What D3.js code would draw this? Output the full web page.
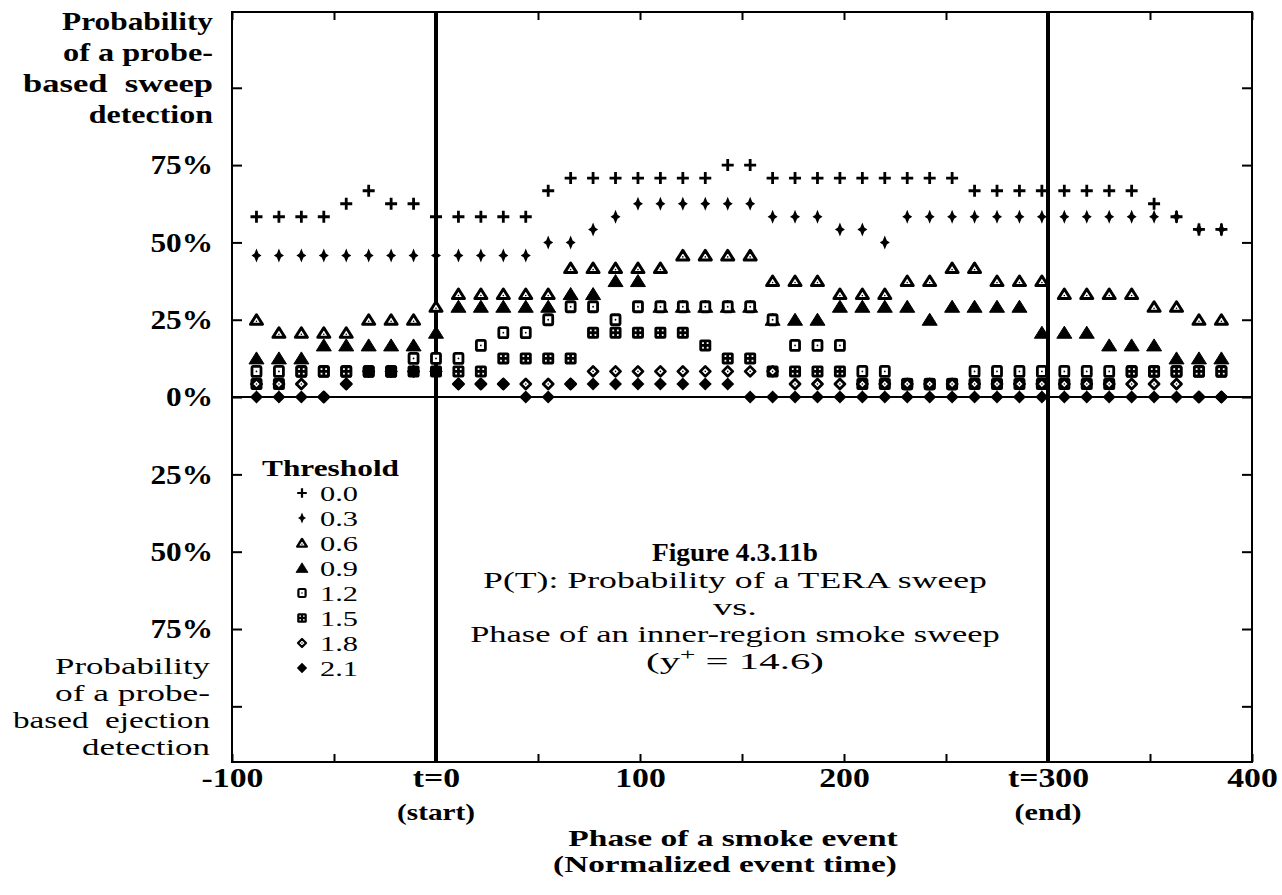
<!DOCTYPE html>
<html><head><meta charset="utf-8">
<script src="https://cdn.jsdelivr.net/npm/d3@7/dist/d3.min.js"></script>
<style>
body{margin:0;background:#fff}
svg{display:block}
text{font-family:"Liberation Serif","Times New Roman",serif;fill:#000}
</style>
</head><body>
<svg id="chart" width="1282" height="895"></svg>
<script>
// ---------- data ----------
const phases = [-88,-77,-66,-55,-44,-33,-22,-11,0,11,22,33,44,55,66,77,88,99,110,121,132,143,154,165,176,187,198,209,220,231,242,253,264,275,286,297,308,319,330,341,352,363,374,385];
const thresholds = ["0.0","0.3","0.6","0.9","1.2","1.5","1.8","2.1"];
const p00 = [58.3,58.3,58.3,58.3,62.5,66.7,62.5,62.5,58.3,58.3,58.3,58.3,58.3,66.7,70.8,70.8,70.8,70.8,70.8,70.8,70.8,75,75,70.8,70.8,70.8,70.8,70.8,70.8,70.8,70.8,70.8,66.7,66.7,66.7,66.7,66.7,66.7,66.7,66.7,62.5,58.3,54.2,54.2];
const p03 = [45.8,45.8,45.8,45.8,45.8,45.8,45.8,45.8,45.8,45.8,45.8,45.8,45.8,50,50,54.2,58.3,62.5,62.5,62.5,62.5,62.5,62.5,58.3,58.3,58.3,54.2,54.2,50,58.3,58.3,58.3,58.3,58.3,58.3,58.3,58.3,58.3,58.3,58.3,58.3,58.3,54.2,54.2];
const p06 = [25,20.8,20.8,20.8,20.8,25,25,25,29.2,33.3,33.3,33.3,33.3,33.3,41.7,41.7,41.7,41.7,41.7,45.8,45.8,45.8,45.8,37.5,37.5,37.5,33.3,33.3,33.3,37.5,37.5,41.7,41.7,37.5,37.5,37.5,33.3,33.3,33.3,33.3,29.2,29.2,25,25];
const p09 = [12.5,12.5,12.5,16.7,16.7,16.7,16.7,16.7,20.8,29.2,29.2,29.2,29.2,29.2,33.3,33.3,37.5,37.5,29.2,29.2,29.2,29.2,29.2,25,25,25,29.2,29.2,29.2,29.2,25,29.2,29.2,29.2,29.2,20.8,20.8,20.8,16.7,16.7,16.7,12.5,12.5,12.5];
const p12 = [8.3,8.3,8.3,8.3,8.3,8.3,8.3,12.5,12.5,12.5,16.7,20.8,20.8,25,29.2,29.2,25,29.2,29.2,29.2,29.2,29.2,29.2,25,16.7,16.7,16.7,8.3,8.3,4.2,4.2,4.2,8.3,8.3,8.3,8.3,8.3,8.3,8.3,8.3,8.3,8.3,8.3,8.3];
const p15 = [4.2,4.2,8.3,8.3,8.3,8.3,8.3,8.3,8.3,8.3,8.3,12.5,12.5,12.5,12.5,20.8,20.8,20.8,20.8,20.8,16.7,12.5,12.5,8.3,8.3,8.3,8.3,4.2,4.2,4.2,4.2,4.2,4.2,4.2,4.2,4.2,4.2,4.2,4.2,8.3,8.3,8.3,8.3,8.3];
const p18 = [4.2,4.2,4.2,0,4.2,8.3,8.3,8.3,8.3,4.2,4.2,4.2,4.2,4.2,4.2,8.3,8.3,8.3,8.3,8.3,8.3,8.3,8.3,8.3,4.2,4.2,4.2,4.2,4.2,4.2,4.2,4.2,4.2,4.2,4.2,4.2,4.2,4.2,4.2,4.2,4.2,4.2,0,0];
const p21 = [0,0,0,0,4.2,8.3,8.3,8.3,8.3,4.2,4.2,4.2,0,0,4.2,4.2,4.2,4.2,4.2,4.2,4.2,4.2,0,0,0,0,0,0,0,0,0,0,0,0,0,0,0,0,0,0,0,0,0,0];
const seriesValues = [p00,p03,p06,p09,p12,p15,p18,p21];
const shapes = ["plus","star","triOpen","triFill","sqOpen","sqGrid","dmOpen","dmFill"];
const yTicks = [-100,-75,-50,-25,0,25,50,75,100];
const xTicks = [-100,-50,0,50,100,150,200,250,300,350,400];
const xLabelVals = [-100,0,100,200,300,400];
const xLabels = ["-100","t=0","100","200","t=300","400"];
const eventMarks = [0,300];
const eventNotes = ["(start)","(end)"];
const yTitleTop = ["Probability","of a probe-","based  sweep","detection"];
const yTitleBottom = ["Probability","of a probe-","based  ejection","detection"];
const caption = ["Figure 4.3.11b","P(T): Probability of a TERA sweep","vs.","Phase of an inner-region smoke sweep"];

// ---------- layout ----------
const svg = d3.select("#chart");
const L = 232, R = 1252, T = 12, B = 762;
const x = d3.scaleLinear().domain([-100,400]).range([L,R]);
const y = d3.scaleLinear().domain([-118,124.5]).range([B,T]);

// text helper: place text then stretch horizontally to a target width
function fitText(parent, str, px, py, anchor, size, weight, width){
  const g = parent.append("g");
  const t = g.append("text").attr("x",0).attr("y",0).attr("text-anchor",anchor)
    .style("font-size",size+"px").style("font-weight",weight||"normal")
    .style("white-space","pre").text(str);
  let s = 1;
  if (width){ const w = t.node().getBBox().width; if (w>0) s = width/w; }
  g.attr("transform",`translate(${px},${py}) scale(${s},1)`);
  return t;
}

// frame
svg.append("rect").attr("x",L).attr("y",T).attr("width",R-L).attr("height",B-T)
  .attr("fill","none").attr("stroke","#000").attr("stroke-width",2);

function styleAxis(g){ g.select(".domain").remove(); g.selectAll(".tick line").attr("stroke","#000").attr("stroke-width",2); }

const ySX = 1.16;
svg.append("g").attr("transform",`translate(${L},0)`)
  .call(d3.axisLeft(y).tickValues(yTicks).tickSize(-10).tickPadding(19/ySX)
    .tickFormat(d => Math.abs(d)===100 ? "" : Math.abs(d)+"%"))
  .call(styleAxis)
  .call(g => g.selectAll("text").style("font-family","'Liberation Serif',serif")
    .style("font-size","27px").style("font-weight","bold").attr("transform",`scale(${ySX},1)`));
svg.append("g").attr("transform",`translate(${R},0)`)
  .call(d3.axisRight(y).tickValues(yTicks).tickSize(-10).tickFormat(""))
  .call(styleAxis);
svg.append("g").attr("transform",`translate(0,${T})`)
  .call(d3.axisTop(x).tickValues(xTicks).tickSize(-8).tickFormat(""))
  .call(styleAxis);
svg.append("g").attr("transform",`translate(0,${B})`)
  .call(d3.axisBottom(x).tickValues(xTicks).tickSize(-8).tickFormat(""))
  .call(styleAxis);
const xSX = 1.25;
svg.append("g").attr("transform",`translate(0,${B})`)
  .call(d3.axisBottom(x).tickValues(xLabelVals).tickSize(0).tickPadding(6)
    .tickFormat((d,i) => xLabels[i]))
  .call(g => g.select(".domain").remove())
  .call(g => g.selectAll("text").style("font-family","'Liberation Serif',serif")
    .style("font-size","27px").style("font-weight","bold").attr("transform",`scale(${xSX},1)`));

// zero line and event lines
svg.append("line").attr("x1",L).attr("x2",R).attr("y1",y(0)).attr("y2",y(0))
  .attr("stroke","#000").attr("stroke-width",2);
svg.selectAll("line.ev").data(eventMarks).enter().append("line").attr("class","ev")
  .attr("x1",d=>x(d)).attr("x2",d=>x(d)).attr("y1",T).attr("y2",B)
  .attr("stroke","#000").attr("stroke-width",4);

// event notes and x title
const noteW = [78,67];
eventMarks.forEach((d,i)=> fitText(svg, eventNotes[i], x(d), 820, "middle", 24, "bold", noteW[i]));
fitText(svg, "Phase of a smoke event", 733, 846, "middle", 23, "bold", 330);
fitText(svg, "(Normalized event time)", 725, 872, "middle", 23, "bold", 344);

// y titles
const topW = [151,150,190,125];
yTitleTop.forEach((s,i)=> fitText(svg, s, 213, 30+i*31, "end", 26, "bold", topW[i]));
const botW = [155,155,197,128];
yTitleBottom.forEach((s,i)=> fitText(svg, s, 210, 674+i*27, "end", 24, "normal", botW[i]));

// caption
const capW = [166,504,44,530];
caption.forEach((s,i)=> fitText(svg, s, 735, 561+i*27, "middle", i===0?26:24, i===0?"bold":"normal", capW[i]));
{
  const g = svg.append("g");
  const t = g.append("text").attr("text-anchor","middle").style("font-size","24px");
  t.append("tspan").text("(y");
  t.append("tspan").attr("dy",-9).style("font-size","16px").text("+");
  t.append("tspan").attr("dy",9).text(" = 14.6)");
  const w = t.node().getBBox().width;
  g.attr("transform",`translate(735,669) scale(${178/w},1)`);
}

// ---------- markers ----------
function marker(g, shape, k){
  switch(shape){
    case "plus":
      g.append("path").attr("d",`M${-6*k},0H${6*k}M0,${-6*k}V${6*k}`).attr("stroke","#000").attr("stroke-width",2.8*k).attr("fill","none");
      break;
    case "star":
      g.append("path").attr("d",`M0,${-7*k}L${2*k},${-2*k}L${5*k},0L${2*k},${2*k}L0,${7*k}L${-2*k},${2*k}L${-5*k},0L${-2*k},${-2*k}Z`).attr("fill","#000");
      break;
    case "triOpen":
      g.append("path").attr("d",`M0,${-5*k}L${6*k},${4.5*k}L${-6*k},${4.5*k}Z`).attr("fill","#fff").attr("stroke","#000").attr("stroke-width",3*k).attr("stroke-linejoin","round");
      g.append("circle").attr("cy",1.5*k).attr("r",0.8*k).attr("fill","#000");
      break;
    case "triFill":
      g.append("path").attr("d",`M0,${-6.5*k}L${7.5*k},${5.5*k}L${-7.5*k},${5.5*k}Z`).attr("fill","#000").attr("stroke","#000").attr("stroke-width",1*k).attr("stroke-linejoin","round");
      break;
    case "sqOpen":
      g.append("rect").attr("x",-4.5*k).attr("y",-5*k).attr("width",9*k).attr("height",10*k).attr("rx",1.5*k).attr("fill","#fff").attr("stroke","#000").attr("stroke-width",2.8*k);
      g.append("circle").attr("r",0.9*k).attr("fill","#000");
      break;
    case "sqGrid":
      g.append("rect").attr("x",-6*k).attr("y",-6*k).attr("width",12*k).attr("height",12*k).attr("rx",2*k).attr("fill","#000");
      [[-2.3,-2.3],[2.3,-2.3],[-2.3,2.3],[2.3,2.3]].forEach(([a,b])=>
        g.append("rect").attr("x",(a-0.9)*k).attr("y",(b-0.9)*k).attr("width",1.8*k).attr("height",1.8*k).attr("fill","#fff"));
      break;
    case "dmOpen":
      g.append("path").attr("d",`M0,${-5*k}L${5*k},0L0,${5*k}L${-5*k},0Z`).attr("fill","#fff").attr("stroke","#000").attr("stroke-width",2.8*k).attr("stroke-linejoin","round");
      g.append("circle").attr("r",0.8*k).attr("fill","#000");
      break;
    case "dmFill":
      g.append("path").attr("d",`M0,${-6.5*k}L${6.5*k},0L0,${6.5*k}L${-6.5*k},0Z`).attr("fill","#000");
      break;
  }
}

const marks = svg.append("g");
seriesValues.forEach((vals,si)=>{
  const sg = marks.append("g").attr("class","series s"+si);
  sg.selectAll("g").data(vals.map((v,i)=>({x:phases[i],v}))).enter().append("g")
    .attr("transform",d=>`translate(${x(d.x)},${y(d.v)})`)
    .each(function(){ marker(d3.select(this), shapes[si], 1); });
});

// ---------- legend ----------
const lg = svg.append("g");
fitText(lg, "Threshold", 262, 476, "start", 24, "bold", 138);
thresholds.forEach((t,i)=>{
  const cy = 493 + i*25;
  const m = lg.append("g").attr("transform",`translate(302,${cy})`);
  marker(m, shapes[i], 0.8);
  fitText(lg, t, 320, cy+8, "start", 22, "normal", 38);
});
</script>
</body></html>
